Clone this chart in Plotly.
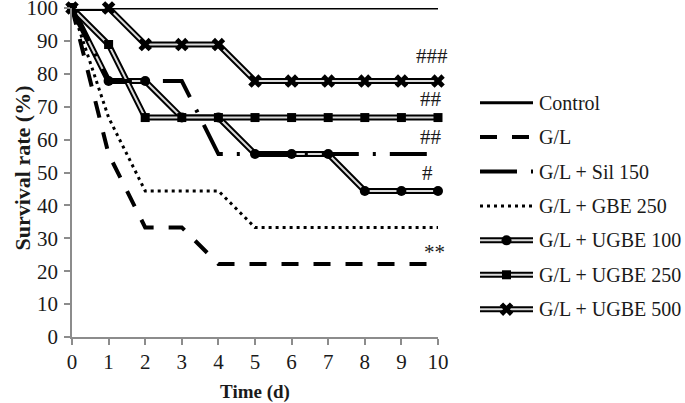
import plotly.graph_objects as go

# ---------------- data ----------------
days = [0, 1, 2, 3, 4, 5, 6, 7, 8, 9, 10]
control = [100, 100, 100, 100, 100, 100, 100, 100, 100, 100, 100]
gl = [100, 55.6, 33.3, 33.3, 22.2, 22.2, 22.2, 22.2, 22.2, 22.2, 22.2]
sil150 = [100, 77.8, 77.8, 77.8, 55.6, 55.6, 55.6, 55.6, 55.6, 55.6, 55.6]
gbe250 = [100, 66.7, 44.4, 44.4, 44.4, 33.3, 33.3, 33.3, 33.3, 33.3, 33.3]
ugbe100 = [100, 77.8, 77.8, 66.7, 66.7, 55.6, 55.6, 55.6, 44.4, 44.4, 44.4]
ugbe250 = [100, 88.9, 66.7, 66.7, 66.7, 66.7, 66.7, 66.7, 66.7, 66.7, 66.7]
ugbe500 = [100, 100, 88.9, 88.9, 88.9, 77.8, 77.8, 77.8, 77.8, 77.8, 77.8]

names = ["Control", "G/L", "G/L + Sil 150", "G/L + GBE 250",
         "G/L + UGBE 100", "G/L + UGBE 250", "G/L + UGBE 500"]
x_ticks = list(range(0, 11))
y_ticks = list(range(0, 101, 10))

sig_labels = ["###", "##", "##", "#", "**"]
sig_y = [85.4, 72.3, 60.7, 49.8, 25.8]
sig_shift = [12, 6, 6, -3, 9]

# ---------------- styles ----------------
FONT = "Liberation Serif, Times New Roman, serif"
TXT = "#1a1a1a"
BLACK = "#000000"
INNER = "#dadada"
AXIS = "#8c8c8c"
FS = 21
LFS = 20

simple_styles = {
    "Control": dict(width=3, dash="solid"),
    "G/L": dict(width=4, dash="17px,15px"),
    "G/L + Sil 150": dict(width=4, dash="37px,14px,3px,14px"),
    "G/L + GBE 250": dict(width=3, dash="3px,4px"),
}
double_styles = {
    "G/L + UGBE 100": dict(symbol="circle", size=10),
    "G/L + UGBE 250": dict(symbol="square", size=9),
    "G/L + UGBE 500": dict(symbol="x", size=12),
}
series = {
    "Control": control, "G/L": gl, "G/L + Sil 150": sil150,
    "G/L + GBE 250": gbe250, "G/L + UGBE 100": ugbe100,
    "G/L + UGBE 250": ugbe250, "G/L + UGBE 500": ugbe500,
}

fig = go.Figure()


def add_simple(name, xs, ys, xa, ya):
    st = simple_styles[name]
    fig.add_trace(go.Scatter(x=xs, y=ys, mode="lines", xaxis=xa, yaxis=ya,
                             line=dict(color=BLACK, width=st["width"], dash=st["dash"]),
                             showlegend=False, cliponaxis=False, hoverinfo="skip"))


def add_double(name, xs, ys, mx, my, xa, ya):
    st = double_styles[name]
    fig.add_trace(go.Scatter(x=xs, y=ys, mode="lines", xaxis=xa, yaxis=ya,
                             line=dict(color=BLACK, width=6),
                             showlegend=False, cliponaxis=False, hoverinfo="skip"))
    fig.add_trace(go.Scatter(x=xs, y=ys, mode="lines", xaxis=xa, yaxis=ya,
                             line=dict(color=INNER, width=2),
                             showlegend=False, cliponaxis=False, hoverinfo="skip"))
    fig.add_trace(go.Scatter(x=mx, y=my, mode="markers", xaxis=xa, yaxis=ya,
                             marker=dict(symbol=st["symbol"], size=st["size"], color=BLACK,
                                         line=dict(width=0)),
                             showlegend=False, cliponaxis=False, hoverinfo="skip"))


# main chart: draw order
add_simple("Control", days, control, "x", "y")
for nm in ["G/L + UGBE 100", "G/L + UGBE 250", "G/L + UGBE 500"]:
    add_double(nm, days, series[nm], days, series[nm], "x", "y")
for nm in ["G/L", "G/L + Sil 150", "G/L + GBE 250"]:
    add_simple(nm, days, series[nm], "x", "y")

# legend samples on a separate small axis
for nm in names:
    if nm in simple_styles:
        add_simple(nm, [0, 1], [nm, nm], "x2", "y2")
    else:
        add_double(nm, [0, 1], [nm, nm], [0.5], [nm], "x2", "y2")

# significance marks
for lab, yy, sh in zip(sig_labels, sig_y, sig_shift):
    fig.add_annotation(x=10, y=yy, xref="x", yref="y", text=lab, showarrow=False,
                       xanchor="right", yanchor="middle", xshift=sh,
                       font=dict(family=FONT, size=FS, color=TXT))

L, R, T, B = 72, 0, 8, 66
W, H = 685, 403
pw = W - L - R
ph = H - T - B

# y-axis title as rotated text
fig.add_annotation(x=(22 - L) / pw, y=(H - B - 168.5) / ph, xref="paper", yref="paper",
                   text="<b>Survival rate (%)</b>", textangle=-90, showarrow=False,
                   xanchor="center", yanchor="middle",
                   font=dict(family=FONT, size=22, color=TXT))

fig.update_layout(
    width=W, height=H,
    margin=dict(l=L, r=R, t=T, b=B, autoexpand=False),
    paper_bgcolor="white", plot_bgcolor="white",
    font=dict(family=FONT, size=FS, color=TXT),
    showlegend=False,
    xaxis=dict(domain=[0, 366 / pw], range=[0, 10], tickvals=x_ticks, automargin=False,
               showgrid=False, zeroline=False, showline=True, linecolor=AXIS, linewidth=1.5,
               ticks="outside", ticklen=6, tickcolor=AXIS, tickwidth=1.5,
               ticklabelstandoff=-1, ticklabeloverflow="allow",
               tickfont=dict(family=FONT, size=FS, color=TXT),
               title=dict(text="<b>Time (d)</b>", font=dict(family=FONT, size=19, color=TXT),
                          standoff=17)),
    yaxis=dict(domain=[0, 1], range=[0, 100], tickvals=y_ticks, automargin=False,
               showgrid=False, zeroline=False, showline=True, linecolor=AXIS, linewidth=1.5,
               ticks="outside", ticklen=6, tickcolor=AXIS, tickwidth=1.5,
               ticklabelstandoff=2, ticklabeloverflow="allow",
               tickfont=dict(family=FONT, size=FS, color=TXT)),
    xaxis2=dict(domain=[(480 - L) / pw, (533 - L) / pw], range=[0, 1], anchor="y2",
                visible=False, fixedrange=True, automargin=False),
    yaxis2=dict(domain=[(H - B - 326.4) / ph, (H - B - 85.5) / ph], anchor="x2", automargin=False,
                type="category", categoryorder="array", categoryarray=names,
                range=[6.5, -0.5], side="right", showline=False, showgrid=False,
                zeroline=False, ticks="", ticklabelstandoff=5, ticklabeloverflow="allow",
                tickfont=dict(family=FONT, size=LFS, color=TXT)),
)

fig.write_html("out.html", config={"displayModeBar": False},
               post_script="document.body.style.margin='0';")
